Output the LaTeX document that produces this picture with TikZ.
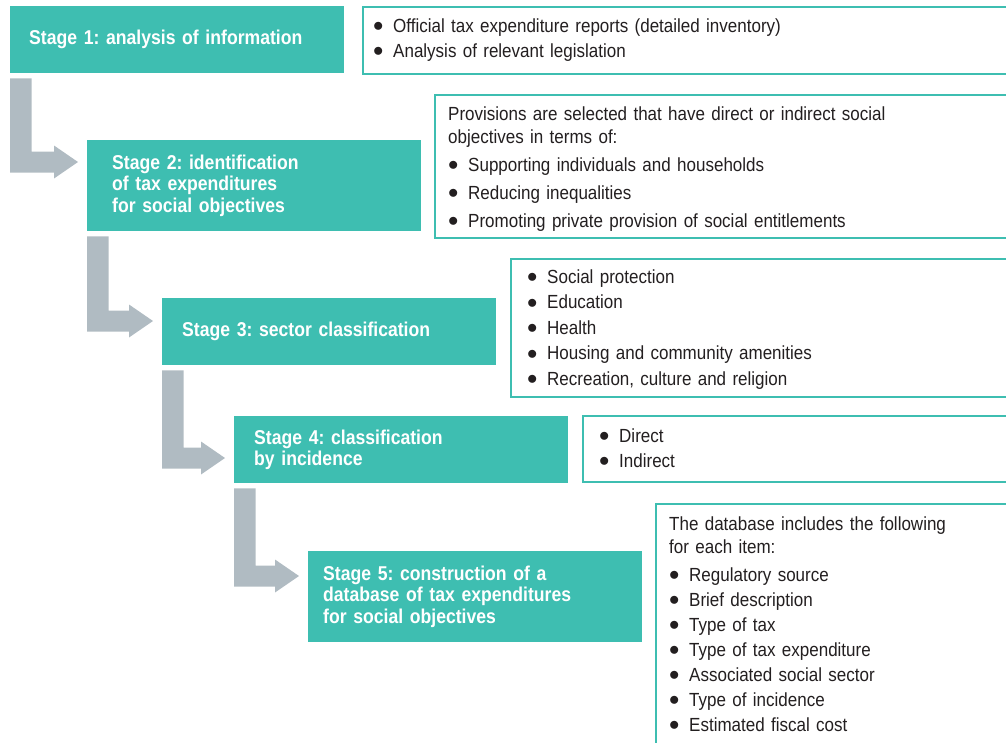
\documentclass[tikz,border=0pt]{standalone}
\usepackage{fontspec}
\setmainfont{Liberation Sans}[FakeStretch=0.895, BoldFeatures={FakeStretch=0.88}]
\usepackage{tikz}
\usetikzlibrary{calc}
\definecolor{stageteal}{RGB}{62,190,177}
\definecolor{arrowgray}{RGB}{176,187,194}
\definecolor{textgray}{RGB}{35,31,32}
\frenchspacing

\newcommand{\bul}{\makebox[20pt][l]{\smash{\raisebox{0.5pt}{\fontsize{22}{22}\selectfont$\bullet$}}}}
% L-shaped arrow from the foot of one stage to the side of the next
\newcommand{\stagearrow}[3]{%
  \fill[arrowgray] let \p1 = ($(#1.south west)+(0,5)$),
                       \p2 = ($(#2.north west)+(-9,#3)$) in
    (\x1,\y1) -- (\x1+21.5pt,\y1) -- (\x1+21.5pt,\y2+10.5pt)
    -- (\x2-24pt,\y2+10.5pt) -- (\x2-24pt,\y2+16.5pt) -- (\x2,\y2)
    -- (\x2-24pt,\y2-16.5pt) -- (\x2-24pt,\y2-10.5pt)
    -- (\x1,\y2-10.5pt) -- cycle;}

\tikzset{
  stagebox/.style={fill=stageteal, text=white, anchor=north west, align=left,
    font=\bfseries\fontsize{20}{21.2}\selectfont, minimum width=334, inner ysep=0},
  infobox/.style={draw=stageteal, line width=2pt, fill=white, anchor=north west, inner sep=0},
  infotext/.style={anchor=base west, align=left, text width=560, inner sep=0,
    text=textgray, font=\fontsize{19}{25}\selectfont}
}

\begin{document}
\begin{tikzpicture}[x=1pt, y=-1pt]
    \useasboundingbox (0,0) rectangle (1006,742);
    \clip (0,0) rectangle (1006,742);

    % Stage 1
    \node[stagebox, minimum height=67, inner xsep=19, text width=296] (s1) at (10,6)
        {Stage 1: analysis of information};
    \node[infobox, minimum width=660, minimum height=67] (d1) at (362,6) {};
    \node[infotext] (t1) at (373,32)
        {\bul Official tax expenditure reports (detailed inventory)\\
         \bul Analysis of relevant legislation};

    % Stage 2
    \node[stagebox, minimum height=91, inner xsep=25, text width=284] (s2) at (87,140)
        {Stage 2: identification\\of tax expenditures\\for social objectives};
    \node[infobox, minimum width=600, minimum height=143] (d2) at (434,94) {};
    \node[infotext] (t2) at (448,120)
        {Provisions are selected that have direct or indirect social\\[-2pt]
         objectives in terms of:\\[3pt]
         \bul Supporting individuals and households\\[3pt]
         \bul Reducing inequalities\\[3pt]
         \bul Promoting private provision of social entitlements};

    % Stage 3
    \node[stagebox, minimum height=67, inner xsep=20, text width=294] (s3) at (162,298)
        {Stage 3: sector classification};
    \node[infobox, minimum width=520, minimum height=138] (d3) at (510,258) {};
    \node[infotext] (t3) at (527,283)
        {\bul Social protection\\[0.5pt]
         \bul Education\\[0.5pt]
         \bul Health\\[0.5pt]
         \bul Housing and community amenities\\[0.5pt]
         \bul Recreation, culture and religion};

    % Stage 4
    \node[stagebox, minimum height=67, inner xsep=20, text width=294] (s4) at (234,416)
        {Stage 4: classification\\by incidence};
    \node[infobox, minimum width=440, minimum height=66] (d4) at (582,415) {};
    \node[infotext] (t4) at (599,442)
        {\bul Direct\\
         \bul Indirect};

    % Stage 5
    \node[stagebox, minimum height=91, inner xsep=15, text width=304] (s5) at (308,551)
        {Stage 5: construction of a\\database of tax expenditures\\for social objectives};
    \node[infobox, minimum width=380, minimum height=260] (d5) at (655,503) {};
    \node[infotext] (t5) at (669,530)
        {The database includes the following\\[-2pt]
         for each item:\\[3pt]
         \bul Regulatory source\\
         \bul Brief description\\
         \bul Type of tax\\
         \bul Type of tax expenditure\\
         \bul Associated social sector\\
         \bul Type of incidence\\
         \bul Estimated fiscal cost};

    % Arrows between stages
    \stagearrow{s1}{s2}{22}
    \stagearrow{s2}{s3}{23}
    \stagearrow{s3}{s4}{42}
    \stagearrow{s4}{s5}{25}
\end{tikzpicture}
\end{document}
